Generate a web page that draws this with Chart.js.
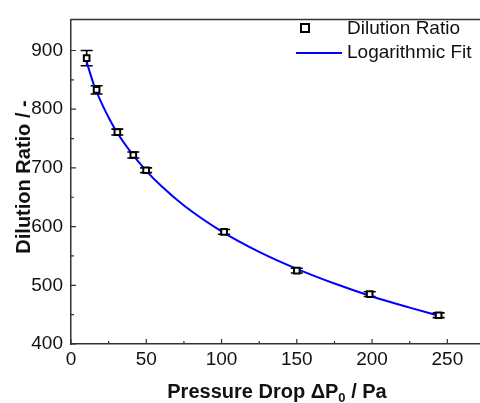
<!DOCTYPE html>
<html>
<head>
<meta charset="utf-8">
<script src="https://cdn.jsdelivr.net/npm/chart.js@4.4.1/dist/chart.umd.min.js"></script>
<style>
    html, body { margin: 0; padding: 0; background: #fff; overflow: hidden; }
    #wrap { width: 500px; height: 403px; }
</style>
</head>
<body>
<div id="wrap"><canvas id="dilutionChart" width="500" height="403"></canvas></div>
<script>
// measured points (pressure drop in Pa, dilution ratio, error)
const pressureDrop = [10.4, 17, 30.8, 41.4, 49.9, 101.7, 150, 198.4, 244.2];
const dilutionRatio = [887, 833, 761, 722, 696, 591, 525, 485, 449];
const ratioError = [13, 7, 5, 5, 4, 4, 4, 4, 4];

// logarithmic fit curve
const fitPressure = [10, 15, 20, 25, 30, 40, 50, 60, 75, 100, 125, 150, 175, 200, 225, 246];
const fitRatio = [884, 843, 812, 786, 763, 726, 695, 669, 636, 592, 557, 528, 503, 481, 462, 447];

const xTicks = [0, 50, 100, 150, 200, 250];
const yTicks = [400, 500, 600, 700, 800, 900];
const xMinorTicks = [25, 75, 125, 175, 225, 275];
const yMinorTicks = [450, 550, 650, 750, 850];

const FONT = "'Liberation Sans', Arial, sans-serif";
const AXIS_COLOR = '#333';

const extrasPlugin = {
    id: 'extras',
    beforeDatasetsDraw(chart) {
        // error bars, under the squares
        const ctx = chart.ctx;
        const xs = chart.scales.x, ys = chart.scales.y;
        ctx.save();
        ctx.strokeStyle = '#000';
        ctx.lineWidth = 1.6;
        pressureDrop.forEach((p, i) => {
            const px = xs.getPixelForValue(p);
            const top = ys.getPixelForValue(dilutionRatio[i] + ratioError[i]);
            const bot = ys.getPixelForValue(dilutionRatio[i] - ratioError[i]);
            ctx.beginPath();
            ctx.moveTo(px, top); ctx.lineTo(px, bot);
            ctx.moveTo(px - 6, top); ctx.lineTo(px + 6, top);
            ctx.moveTo(px - 6, bot); ctx.lineTo(px + 6, bot);
            ctx.stroke();
        });
        ctx.restore();
    },
    afterDraw(chart) {
        const ctx = chart.ctx;
        const area = chart.chartArea;
        const xs = chart.scales.x, ys = chart.scales.y;
        ctx.save();

        // top frame line
        ctx.strokeStyle = AXIS_COLOR;
        ctx.lineWidth = 1.5;
        ctx.beginPath();
        ctx.moveTo(area.left, area.top);
        ctx.lineTo(chart.width, area.top);
        ctx.stroke();

        // inward ticks
        ctx.lineWidth = 1.2;
        ctx.beginPath();
        xTicks.forEach(v => { const p = xs.getPixelForValue(v); ctx.moveTo(p, area.bottom); ctx.lineTo(p, area.bottom - 5); });
        xMinorTicks.forEach(v => { const p = xs.getPixelForValue(v); ctx.moveTo(p, area.bottom); ctx.lineTo(p, area.bottom - 3); });
        yTicks.forEach(v => { const p = ys.getPixelForValue(v); ctx.moveTo(area.left, p); ctx.lineTo(area.left + 5, p); });
        yMinorTicks.forEach(v => { const p = ys.getPixelForValue(v); ctx.moveTo(area.left, p); ctx.lineTo(area.left + 3, p); });
        ctx.stroke();

        // legend
        ctx.fillStyle = '#111';
        ctx.font = '19px ' + FONT;
        ctx.textBaseline = 'alphabetic';
        ctx.textAlign = 'left';
        ctx.fillText('Dilution Ratio', 347, 34);
        ctx.fillText('Logarithmic Fit', 347, 58);
        ctx.strokeStyle = '#000';
        ctx.lineWidth = 2;
        ctx.fillStyle = '#fff';
        ctx.fillRect(301, 24, 8, 8);
        ctx.strokeRect(301, 24, 8, 8);
        ctx.strokeStyle = '#0000ff';
        ctx.beginPath();
        ctx.moveTo(296, 53); ctx.lineTo(342, 53);
        ctx.stroke();

        // x title with subscript
        ctx.fillStyle = '#111';
        const big = 'bold 20px ' + FONT, small = 'bold 13px ' + FONT;
        const partA = 'Pressure Drop \u0394P', partB = '0', partC = ' / Pa';
        ctx.font = big;
        const wA = ctx.measureText(partA).width, wC = ctx.measureText(partC).width;
        ctx.font = small;
        const wB = ctx.measureText(partB).width;
        let x0 = 277 - (wA + wB + wC) / 2;
        ctx.font = big;
        ctx.fillText(partA, x0, 398);
        ctx.font = small;
        ctx.fillText(partB, x0 + wA, 402);
        ctx.font = big;
        ctx.fillText(partC, x0 + wA + wB, 398);

        // y title
        ctx.translate(30, 177);
        ctx.rotate(-Math.PI / 2);
        ctx.textAlign = 'center';
        ctx.font = big;
        ctx.fillText('Dilution Ratio / -', 0, 0);
        ctx.restore();
    }
};

const ctx = document.getElementById('dilutionChart').getContext('2d');
new Chart(ctx, {
    type: 'scatter',
    data: {
        datasets: [
            {
                label: 'Dilution Ratio',
                data: pressureDrop.map((p, i) => ({ x: p, y: dilutionRatio[i] })),
                pointStyle: 'rect',
                pointRadius: 4,
                borderColor: '#000',
                backgroundColor: '#fff',
                borderWidth: 2,
                showLine: false
            },
            {
                label: 'Logarithmic Fit',
                data: fitPressure.map((p, i) => ({ x: p, y: fitRatio[i] })),
                showLine: true,
                borderColor: '#0000ff',
                borderWidth: 2,
                pointRadius: 0,
                cubicInterpolationMode: 'monotone'
            }
        ]
    },
    options: {
        responsive: false,
        animation: false,
        layout: { padding: { top: 11, right: 15, left: 0, bottom: 0 } },
        plugins: {
            legend: { display: false },
            tooltip: { enabled: false }
        },
        scales: {
            x: {
                type: 'linear',
                min: 0,
                max: 275,
                afterFit: s => { s.height = 59; },
                afterBuildTicks: s => { s.ticks = xTicks.map(v => ({ value: v })); },
                grid: { display: false, drawTicks: false },
                border: { display: true, color: AXIS_COLOR, width: 1.5 },
                ticks: { color: '#111', padding: 4, font: { family: FONT, size: 19 } }
            },
            y: {
                type: 'linear',
                min: 400,
                max: 953,
                afterFit: s => { s.width = 71; },
                afterBuildTicks: s => { s.ticks = yTicks.map(v => ({ value: v })); },
                grid: { display: false, drawTicks: false },
                border: { display: true, color: AXIS_COLOR, width: 1.5 },
                ticks: { color: '#111', padding: 8, font: { family: FONT, size: 19 } }
            }
        }
    },
    plugins: [extrasPlugin]
});
</script>
</body>
</html>
